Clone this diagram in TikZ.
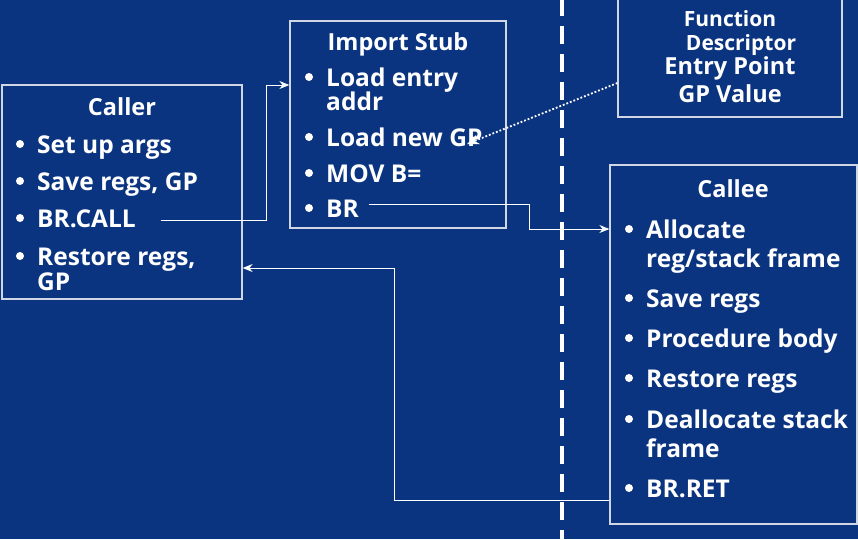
\documentclass[tikz,border=0pt]{standalone}
\usepackage{fontspec}
\setmainfont{Open Sans}
\usetikzlibrary{arrows.meta,calc}
\definecolor{bg}{HTML}{0B3480}
\definecolor{edge}{HTML}{D0D6E4}
\tikzset{
  boxframe/.style={draw=edge, line width=1.3pt, inner sep=0pt},
  itemtext/.style={anchor=base west, inner sep=0pt, text=white, font=\bfseries\fontsize{24.5}{26}\selectfont},
  titletext/.style={anchor=base, inner sep=0pt, text=white, font=\bfseries\fontsize{23.5}{26}\selectfont},
  smalltitle/.style={anchor=base, inner sep=0pt, text=white, font=\bfseries\fontsize{21}{22}\selectfont},
  bulletdot/.style={circle, fill=white, inner sep=0pt, minimum size=8pt},
  link/.style={draw=white, line width=1pt, -{Stealth[length=10pt,width=8pt]}},
}
\newcommand\bitem[4]{%
  \node[itemtext] (#1) at (#2,#3) {#4};
  \node[bulletdot] (#1-dot) at (#2-17,#3-9) {};}
\begin{document}
\begin{tikzpicture}[x=1pt,y=-1pt]
\fill[bg] (0,0) rectangle (858,539);
\useasboundingbox (0,0) rectangle (858,539);

% dashed divider
\draw[white, line width=4pt, dash pattern=on 18pt off 10pt] (562,-2) -- (562,541);

% Caller box
\node[boxframe, minimum width=240pt, minimum height=214pt] (caller) at (122,192) {};
\node[titletext] (callert) at (122,115) {Caller};
\bitem{c1}{37}{153}{Set up args}
\bitem{c2}{37}{190}{Save regs, GP}
\bitem{c3}{37}{227}{BR.CALL}
\bitem{c4}{37}{265}{Restore regs,}
\node[itemtext] (c4b) at (37,290) {GP};

% Import stub box
\node[boxframe, minimum width=216pt, minimum height=207pt] (stub) at (398,124.5) {};
\node[titletext] (stubt) at (398,50) {Import Stub};
\bitem{s1}{326}{86}{Load entry}
\node[itemtext] (s1b) at (326,110) {addr};
\bitem{s2}{326}{146}{Load new GP}
\bitem{s3}{326}{182}{MOV B=}
\bitem{s4}{326}{217}{BR}

% Function descriptor box
\node[boxframe, minimum width=224pt, minimum height=127pt] (fdesc) at (730,53.5) {};
\node[smalltitle] (fd1) at (730,26) {Function};
\node[smalltitle] (fd2) at (741,50) {Descriptor};
\node[titletext] (fd3) at (730,74) {Entry Point};
\node[titletext] (fd4) at (730,102) {GP Value};

% Callee box
\node[boxframe, minimum width=247pt, minimum height=359pt] (callee) at (733.5,344.5) {};
\node[titletext] (calleet) at (733,197) {Callee};
\bitem{e1}{646}{238}{Allocate}
\node[itemtext] (e1b) at (646,267) {reg/stack frame};
\bitem{e2}{646}{307}{Save regs}
\bitem{e3}{646}{347}{Procedure body}
\bitem{e4}{646}{387}{Restore regs}
\bitem{e5}{646}{428}{Deallocate stack}
\node[itemtext] (e5b) at (646,457) {frame};
\bitem{e6}{646}{497}{BR.RET}

% connectors
\coordinate (callstart) at (161,220);
\draw[link] (callstart) -- (266,220) |- (stub.west |- 0,85);
\coordinate (brstart) at (369,204);
\draw[link] (brstart) -- (529,204) |- (callee.west |- 0,229);
\draw[link] (callee.west |- 0,500) -- (394,500) |- (caller.east |- 0,268);
\coordinate (fdstart) at (fdesc.west |- 0,83);
\coordinate (gptip) at (467,144);
\draw[white, line width=1.8pt, dotted] (fdstart) -- ($(gptip)!9pt!(fdstart)$);
\draw[white, line width=1pt, -{Stealth[length=12pt,width=10pt]}] ($(gptip)!10pt!(fdstart)$) -- (gptip);
\end{tikzpicture}
\end{document}
